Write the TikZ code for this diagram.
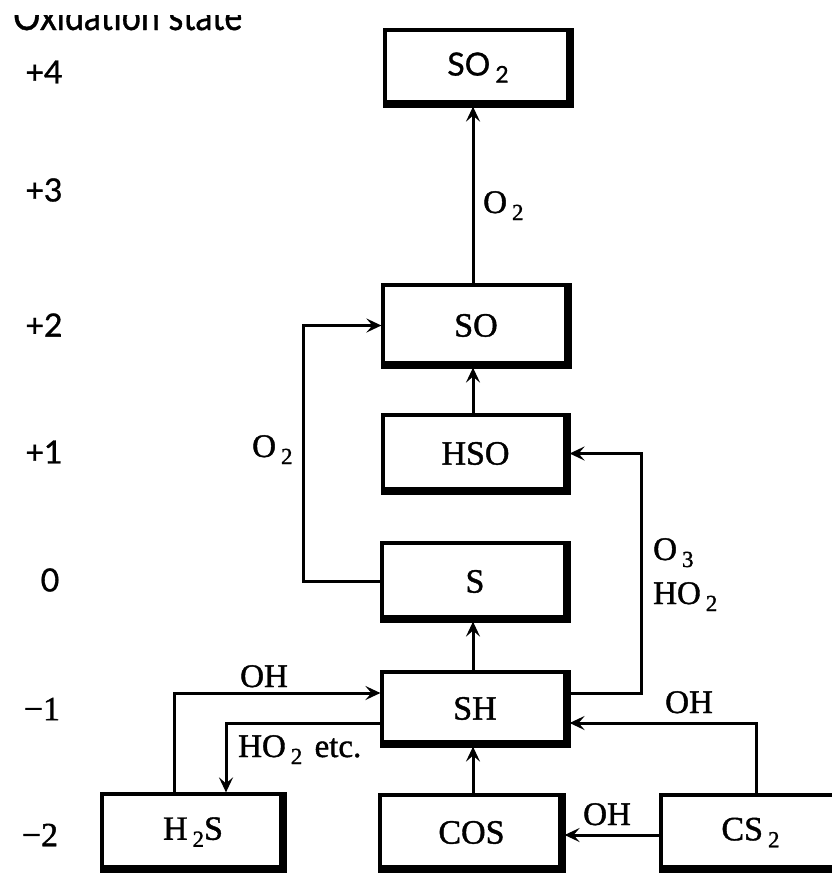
\documentclass[tikz,border=0pt]{standalone}
\usepackage{fontspec}
\setmainfont{Liberation Serif}[FakeBold=1.2]
\newfontfamily\labsans{Lato}[FakeBold=1]
\usetikzlibrary{arrows.meta,calc}
\newcommand\mysub[1]{\hspace{5pt}\raisebox{-7pt}{\fontsize{23}{23}\selectfont #1}}
\begin{document}
\begin{tikzpicture}[x=1pt,y=-1pt,
  box/.style={draw, line width=3.2pt, inner sep=0pt, font=\fontsize{34}{34}\selectfont},
  conn/.style={line width=3pt},
  arr/.style={conn, -{Stealth[length=15pt,width=14pt,inset=6pt]}},
  lab/.style={font=\fontsize{33}{33}\selectfont, inner sep=0pt, anchor=base west},
  lvl/.style={font=\fontsize{34}{34}\selectfont, inner sep=0pt},
  slvl/.style={font=\labsans\fontsize{32}{32}\selectfont, inner sep=0pt},
  thickedge/.style={line width=7.5pt, line join=miter}
]
\useasboundingbox (0,0) rectangle (832,873);

% title (cut off at top)
\begin{scope}
\clip (0,15) rectangle (300,45);
\node[anchor=base west, inner sep=0pt, font=\labsans\fontsize{40}{40}\selectfont] (ox) at (13,30) {\scalebox{0.85}[1]{Oxidation state}};
\end{scope}

% oxidation levels
\node[slvl] (l4) at (44,72) {+4};
\node[slvl] (l3) at (44,190) {+3};
\node[slvl] (l2) at (44,325) {+2};
\node[slvl] (l1) at (44,452) {+1};
\node[slvl] (l0) at (50,580) {0};
\node[lvl] (lm1) at (42,709) {−1};
\node[lvl] (lm2) at (40,835) {−2};

% boxes
\node[box, minimum width=186pt, minimum height=75pt] (so2) at (478,67.5) {\labsans\fontsize{32}{32}\selectfont SO\mysub{2}};
\node[box, minimum width=186pt, minimum height=81pt] (so) at (476,325.5) {SO};
\node[box, minimum width=185pt, minimum height=77pt] (hso) at (475.5,453.5) {HSO};
\node[box, minimum width=186pt, minimum height=77pt] (s) at (475,581.5) {S};
\node[box, minimum width=186pt, minimum height=73pt] (sh) at (475,708.5) {SH};
\node[box, minimum width=182pt, minimum height=76pt] (h2s) at (193,832) {H\mysub{2}S};
\node[box, minimum width=183pt, minimum height=75pt] (cos) at (471.5,832.5) {COS};
\node[box, minimum width=179pt, minimum height=75pt] (cs2) at (750.5,832.5) {CS\mysub{2}};

\foreach \n in {so2,so,hso,s,sh,h2s,cos,cs2}
  \draw[thickedge] ([yshift=2.5pt]\n.south west) -- ([xshift=-2.5pt,yshift=2.5pt]\n.south east) -- ([xshift=-2.5pt]\n.north east);

\coordinate (cx) at (473,0);

% vertical chain
\draw[arr] (so.north -| cx) -- (so2.south -| cx);
\draw[arr] (hso.north -| cx) -- (so.south -| cx);
\draw[arr] (sh.north -| cx) -- (s.south -| cx);
\draw[arr] (cos.north -| cx) -- (sh.south -| cx);

% loops
\draw[arr] (s.west) -- ++(-77,0) |- (so.west);
\draw[arr] ([yshift=15.5pt]sh.east) -- ++(72,0) |- (hso.east);

% bottom connections
\draw[arr] ([xshift=-19pt]h2s.north) |- ([yshift=15.5pt]sh.west);
\draw[arr] ([yshift=-14.5pt]sh.west) -| ([xshift=33pt]h2s.north);
\draw[arr] ([xshift=5.5pt]cs2.north) |- ([yshift=-14.5pt]sh.east);
\draw[arr] ([yshift=-2.5pt]cs2.west) -- ([yshift=-2.5pt]cos.east);

% labels
\node[lab] (o2a) at (483,213) {O\mysub{2}};
\node[lab] (o2b) at (252,457) {O\mysub{2}};
\node[lab] (o3) at (653,560) {O\mysub{3}};
\node[lab] (ho2) at (653,604) {HO\mysub{2}};
\node[lab] (oha) at (240,687) {OH};
\node[lab] (ho2etc) at (238,757) {HO\mysub{2}\hspace{4pt} etc.};
\node[lab] (ohb) at (665,713) {OH};
\node[lab] (ohc) at (583,825) {OH};
\end{tikzpicture}
\end{document}
